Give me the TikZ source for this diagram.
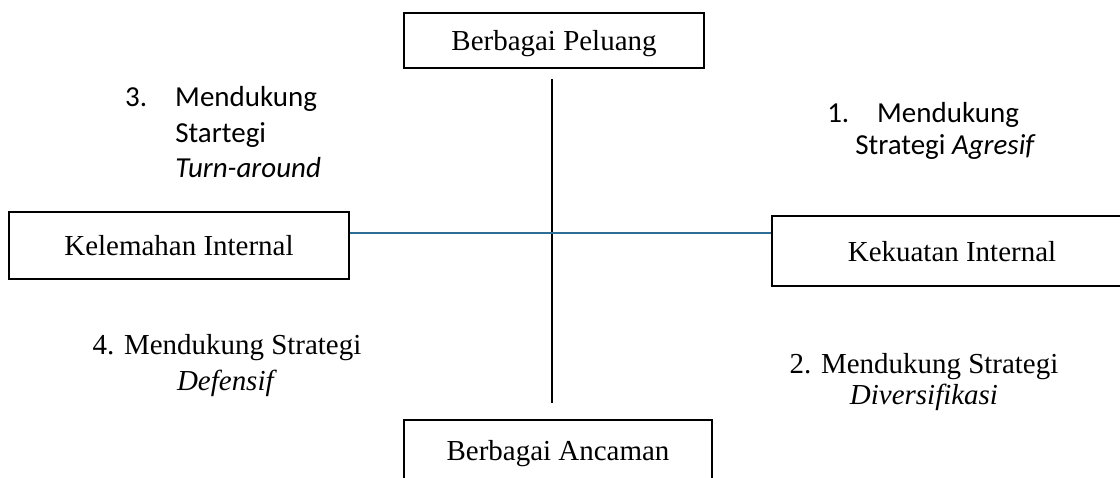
\documentclass[tikz,border=0pt]{standalone}
\usepackage{fontspec}
\setmainfont{Liberation Serif}
\newfontfamily\calibri{Carlito}
\usepackage{tikz}
\definecolor{axisblue}{RGB}{46,110,150}
\newcommand{\txtsize}{\fontsize{20.6pt}{25pt}\selectfont}

\begin{document}
\begin{tikzpicture}[x=0.025cm, y=-0.025cm,
	box/.style={draw, line width=1.6pt, inner sep=0pt, text depth=0pt, font=\txtsize},
	quad/.style={inner sep=0pt, font=\txtsize},
	axis/.style={line width=1.4pt}]
	\useasboundingbox (0,0) rectangle (1120,478);
	\clip (0,0) rectangle (1120,478);

	\node[box, minimum width=7.5cm, minimum height=1.375cm] (peluang) at (554,40.5) {Berbagai Peluang};
	\node[box, minimum width=7.7cm, minimum height=1.5cm] (ancaman) at (558,450) {Berbagai Ancaman};
	\node[box, minimum width=8.5cm, minimum height=1.675cm] (kelemahan) at (179,245.5) {Kelemahan Internal};
	\node[box, minimum width=9cm, minimum height=1.75cm] (kekuatan) at (952,251) {Kekuatan Internal};

	\coordinate (vtop) at (552,79);
	\coordinate (vbot) at (552,403);
	\coordinate (hleft) at (kelemahan.east |- 0,233);
	\coordinate (hright) at (kekuatan.west |- 0,233);

	\draw[axis] (vtop) -- (vbot);
	\draw[axis, axisblue] (hleft) -- (hright);

	% quadrant texts (base = last line)
	\node[quad, anchor=base west, align=left, font=\fontsize{20.6pt}{25.3pt}\selectfont\calibri] (kuadran3) at (175,178)
		{\makebox[0pt][l]{\hspace*{-35.6pt}3.}Mendukung\\Startegi\\\textit{Turn-around}};
	\node[quad, anchor=base west, align=left, font=\fontsize{20.6pt}{22.8pt}\selectfont\calibri] (kuadran1) at (855,155)
		{\makebox[0pt][l]{\hspace*{-19.9pt}1.}\hspace*{15.6pt}Mendukung\\Strategi \textit{Agresif}};
	\node[quad, anchor=base, align=center, font=\fontsize{20.6pt}{26pt}\selectfont] (kuadran4) at (227,391)
		{4. Mendukung Strategi\\\textit{Defensif}};
	\node[quad, anchor=base, align=center, font=\fontsize{20.6pt}{22.5pt}\selectfont] (kuadran2) at (924,405)
		{2. Mendukung Strategi\\\textit{Diversifikasi}};
\end{tikzpicture}
\end{document}
